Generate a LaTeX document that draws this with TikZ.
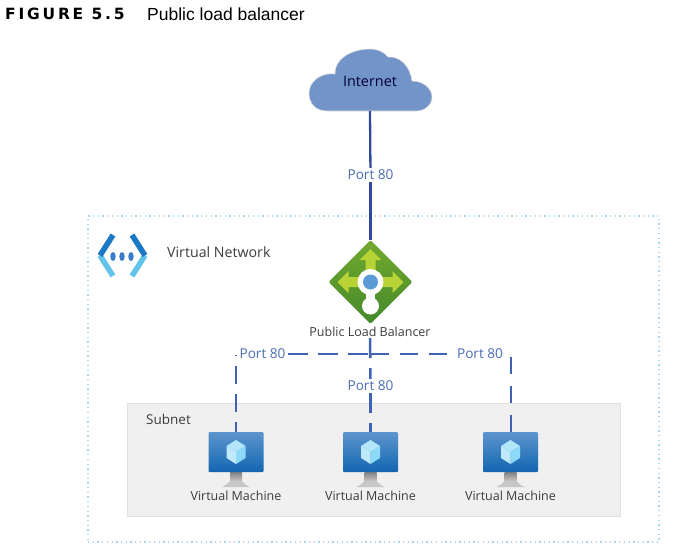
\documentclass[tikz,border=0pt]{standalone}
\usepackage{fontspec}
\setmainfont{Open Sans}
\newfontfamily\captionfont{Liberation Sans}
\newfontfamily\figurefont[LetterSpace=18]{DejaVu Sans}
\usetikzlibrary{shapes.geometric}

\definecolor{portblue}{HTML}{4A6DB4}
\definecolor{linedark}{HTML}{2F4A98}
\definecolor{linedash}{HTML}{3F63B2}
\definecolor{cloudblue}{HTML}{7394C9}
\definecolor{vnetdot}{HTML}{A9D6EE}
\definecolor{labelgrey}{HTML}{3C3C3C}
\definecolor{chevdark}{HTML}{1B78C4}
\definecolor{chevlight}{HTML}{62C4EA}
\definecolor{dotblue}{HTML}{3B7CC8}
\definecolor{lbtop}{HTML}{72A92F}
\definecolor{lbbottom}{HTML}{45892B}
\definecolor{lbarrow}{HTML}{B7D336}
\definecolor{lbcentre}{HTML}{5B9BD5}
\definecolor{vmtop}{HTML}{5D95CE}
\definecolor{vmbottom}{HTML}{1266B0}

\tikzset{
	portlabel/.style={text=portblue,font=\fontsize{13.6}{15}\selectfont,inner sep=2pt},
	graylabel/.style={text=labelgrey,font=\fontsize{12.5}{14}\selectfont,inner sep=1pt},
	solidline/.style={draw=linedark,line width=2.3pt},
	dashline/.style={draw=linedash,line width=2.6pt,dash pattern=on 20pt off 10pt},
}

\begin{document}
\begin{tikzpicture}[x=1pt,y=-1pt]

	\useasboundingbox (0,0) rectangle (681,550);

	\node (fig) at (5,14)[anchor=west,inner sep=0pt] {\figurefont\bfseries\fontsize{15.5}{17}\selectfont FIGURE 5.5};
	\node (cap) at (147,14)[anchor=west,inner sep=0pt] {\captionfont\fontsize{17.5}{19}\selectfont Public load balancer};

	% containers
	\node (vnet) at (373.5,379)[draw=vnetdot,line width=1.2pt,dash pattern=on 1.3pt off 3.4pt,minimum width=571pt,minimum height=326pt,inner sep=0pt] {};
	\node (subnet) at (373.5,459.5)[draw=black!12,fill=black!6,minimum width=493pt,minimum height=113pt,inner sep=0pt] {};

	% cloud
	\fill [cloudblue,draw=black!12,line width=.6pt] (327,111) .. controls (315,111) and (309,103) .. (309,93)
		.. controls (309,81) and (322,72) .. (335,74)
		.. controls (334,60) and (350,49) .. (370,49)
		.. controls (378,49) and (384,52) .. (388,57)
		.. controls (399,56) and (410,65) .. (412,81)
		.. controls (424,81) and (432,89) .. (432,97)
		.. controls (432,105) and (425,111) .. (416,111) -- cycle;
	\node (internet) at (370,81)[text=black!80!blue,font=\fontsize{14.4}{16}\selectfont,inner sep=1pt] {Internet};
	\coordinate (cloud_b) at (370,111);

	% virtual network icon
	\draw [line width=5.5pt,color=chevlight] (100,255.5) -- (113,276);
	\draw [line width=5.5pt,color=chevlight] (145,255.5) -- (132,276);
	\draw [line width=5.5pt,color=chevdark] (113,235) -- (100,255.5);
	\draw [line width=5.5pt,color=chevdark] (132,235) -- (145,255.5);
	\foreach \x in {113,122,131}
	{
		\fill [dotblue] (\x,256.5) ellipse [x radius=2.7,y radius=4.5];
	}
	\node (vnet_l) at (166,252)[graylabel,anchor=west,font=\fontsize{14.2}{16}\selectfont] {Virtual Network};
	\node (subnet_l) at (145,419)[graylabel,anchor=west,font=\fontsize{13.5}{15}\selectfont] {Subnet};

	% load balancer
	\node (lb) at (370.5,282)[diamond,aspect=1,rounded corners=2pt,minimum width=84pt,minimum height=84pt,inner sep=0pt,top color=lbtop,bottom color=lbbottom] {};
	\foreach \r in {0,90,-90}
	{
		\begin{scope}[shift={(lb.center)},rotate=\r]
			\fill [lbarrow] (-5,0) -- (-5,-22) -- (-11,-22) -- (0,-33) -- (11,-22) -- (5,-22) -- (5,0) -- cycle;
		\end{scope}
	}
	\fill [white] (366,290) rectangle (375,302);
	\fill [white] (lb.center) circle [radius=13];
	\fill [white] (370.5,306) circle [radius=8.5];
	\fill [lbcentre] (lb.center) circle [radius=7.5];
	\node (lb_l) at (370,332)[graylabel] {Public Load Balancer};

	% virtual machines
	\foreach \n/\x in {1/236,2/370.5,3/510.5}
	{
		\shade [top color=black!50,bottom color=black!22] (\x-6,472) rectangle (\x+6,481);
		\fill [black!22] (\x-6,481) -- (\x+6,481) .. controls (\x+8,484) and (\x+12,486) .. (\x+14,487) -- (\x-14,487) .. controls (\x-12,486) and (\x-8,484) .. (\x-6,481) -- cycle;
		\node (vm_\n) at (\x,452)[rectangle,rounded corners=1pt,minimum width=55pt,minimum height=40pt,inner sep=0pt,top color=vmtop,bottom color=vmbottom] {};
		\fill [cyan!30!white] (\x,440) -- (\x+9.5,446) -- (\x,452) -- (\x-9.5,446) -- cycle;
		\fill [cyan!45!white] (\x,452) -- (\x+9.5,446) -- (\x+9.5,458) -- (\x,464) -- cycle;
		\fill [cyan!25!white] (\x,452) -- (\x-9.5,446) -- (\x-9.5,458) -- (\x,464) -- cycle;
		\node (vml_\n) at (\x,496)[graylabel] {Virtual Machine};
	}

	% ports
	\node (port_t) at (370.5,175)[portlabel] {Port 80};
	\node (port_l) at (262.5,354)[portlabel] {Port 80};
	\node (port_m) at (370.5,386)[portlabel] {Port 80};
	\node (port_r) at (480,354)[portlabel] {Port 80};
	\coordinate (hub) at (370.5,354);
	\coordinate (corner_l) at (236,355);
	\coordinate (corner_r) at (511,357);

	\draw [solidline] (cloud_b) -- (port_t);
	\draw [solidline] (port_t) -- (lb);

	\draw [dashline] (lb_l) -- (port_m);
	\draw [dashline] (port_m) -- (vm_2);
	\draw [dashline] (port_l) -- (hub);
	\draw [dashline,dash pattern=on 18pt off 11pt] (hub) -- (port_r);
	\draw [dashline,dash pattern=on 18pt off 10pt,dash phase=17pt] (corner_l) -- (vm_1);
	\draw [dashline,dash pattern=on 17pt off 12pt] (corner_r) -- (vm_3.north -| corner_r);

\end{tikzpicture}
\end{document}
